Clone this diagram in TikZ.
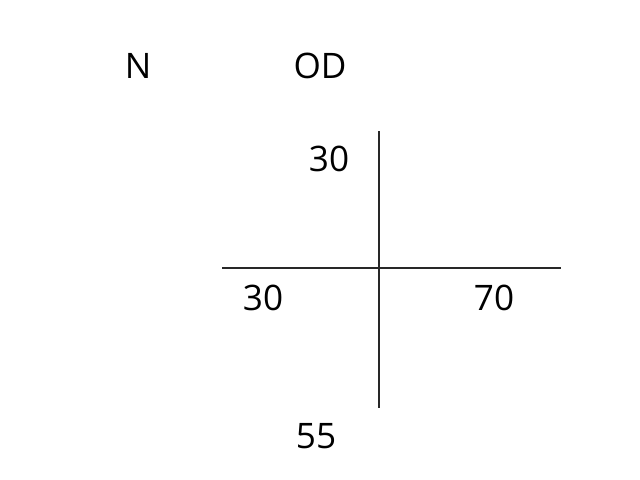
\documentclass[tikz,border=0pt]{standalone}
\usepackage{fontspec}
\setmainfont{Open Sans}
\usepackage{xcolor}
\usepackage{tikz}
\usetikzlibrary{positioning, calc}
\definecolor{linegray}{RGB}{40, 40, 40}
\tikzset{
    lbl/.style={font=\fontsize{20}{24}\selectfont, inner sep=0pt, anchor=center},
    axisline/.style={line width=0.6pt, linegray}
}

\begin{document}
\begin{tikzpicture}[x=0.02cm, y=-0.02cm]
    \useasboundingbox (0,0) rectangle (640,480);
    % headings
    \node[lbl] (hdN) at (138,66) {N};
    \node[lbl] (hdOD) at (320,66) {OD};
    % cross
    \coordinate (vtop) at (379,131);
    \coordinate (vbot) at (379,408);
    \coordinate (hleft) at (222,268);
    \coordinate (hright) at (561,268);
    \draw[axisline] (vtop) -- (vbot);
    \draw[axisline] (hleft) -- (hright);
    % values
    \node[lbl] (valtop) at (329,159) {30};
    \node[lbl] (valleft) at (263,298) {30};
    \node[lbl] (valright) at (494,298) {70};
    \node[lbl] (valbot) at (316,436) {55};
\end{tikzpicture}
\end{document}
